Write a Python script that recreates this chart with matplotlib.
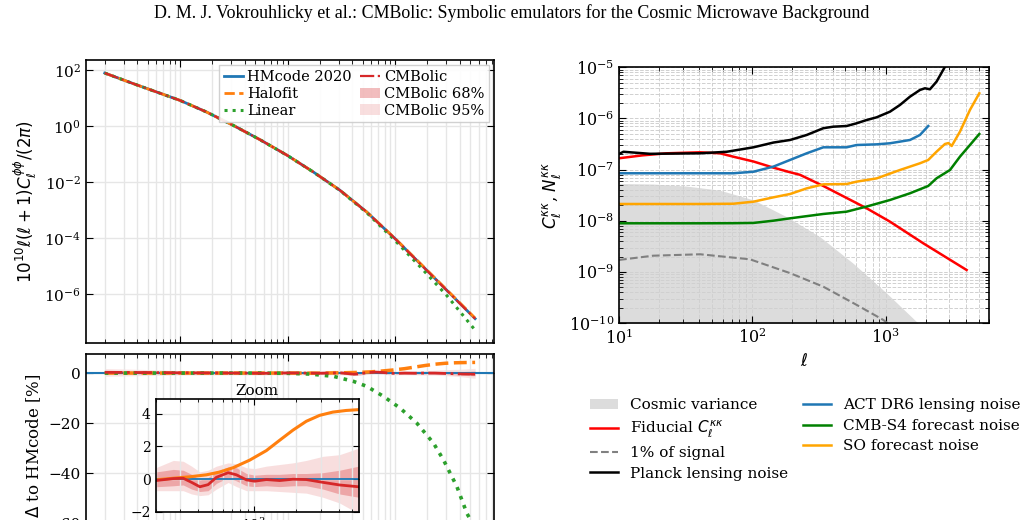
import matplotlib
matplotlib.use("Agg")
import matplotlib.pyplot as plt
from matplotlib.patches import Patch
from matplotlib.lines import Line2D
import numpy as np

plt.rcParams['font.family'] = 'DejaVu Serif'
plt.rcParams['mathtext.fontset'] = 'dejavusans'
plt.rcParams['xtick.direction'] = 'in'
plt.rcParams['ytick.direction'] = 'in'
plt.rcParams['xtick.top'] = True
plt.rcParams['ytick.right'] = True
plt.rcParams['axes.linewidth'] = 1.2

# ---- lensing potential spectrum (left top), log10 values
ell_pp = [2, 3.7, 10, 17.7, 31.3, 55.5, 99.5, 174, 308, 545, 1000, 1709, 3026, 5545]
log_hmcode = [1.905, 1.524, 0.929, 0.512, 0.036, -0.476, -1.036, -1.631, -2.286, -3.060, -4.012, -4.905, -5.857, -6.869]
log_halofit = [1.905, 1.524, 0.929, 0.512, 0.036, -0.476, -1.036, -1.631, -2.286, -3.058, -4.006, -4.891, -5.840, -6.851]
log_linear = [1.905, 1.524, 0.929, 0.512, 0.036, -0.476, -1.037, -1.633, -2.292, -3.084, -4.078, -5.013, -6.044, -7.280]
log_cmbolic = [1.906, 1.524, 0.929, 0.512, 0.036, -0.476, -1.036, -1.631, -2.286, -3.060, -4.012, -4.906, -5.858, -6.871]

# ---- ratios to HMcode [%]
ell_lin_r = [2, 10, 50, 100, 162, 267, 409, 545, 779, 1113, 1592, 2276, 2818, 3751, 4648, 5545]
lin_r = [0, 0, 0, -0.1, -0.4, -1.3, -3.3, -5.3, -9.3, -14, -20, -28, -34.7, -45.3, -56, -62]

ell_hf_r = [2, 10, 50, 100, 200, 267, 350, 459, 571, 713, 933, 1224, 1521, 1892, 2353, 2926, 3631, 4518, 5545]
hf_r = [0, 0, 0, 0, -0.04, 0.06, 0.15, 0.27, 0.44, 0.71, 1.17, 1.75, 2.38, 3.0, 3.54, 3.9, 4.1, 4.2, 4.25]

ell_cmb = [2, 5, 10, 30, 60, 100, 150, 200, 267, 314, 360, 412, 472, 541, 655, 750, 884, 1011, 1224, 1521, 1892, 2353, 3087, 4052, 5545]
cmb_med = [0.3, 0.2, 0.1, 0.0, -0.1, 0.05, 0.0, -0.08, 0.04, 0.06, -0.19, -0.46, -0.33, 0.12, 0.4, 0.27, -0.04, -0.12, -0.02, -0.08, 0.0, -0.02, -0.19, -0.35, -0.46]
cmb_hi68 = [1.0, 0.8, 0.6, 0.45, 0.35, 0.45, 0.45, 0.44, 0.6, 0.55, 0.3, -0.05, 0.1, 0.5, 0.75, 0.7, 0.35, 0.25, 0.3, 0.3, 0.35, 0.35, 0.4, 0.55, 0.8]
cmb_lo68 = [-0.4, -0.4, -0.4, -0.45, -0.5, -0.4, -0.4, -0.46, -0.4, -0.35, -0.6, -0.75, -0.7, -0.25, 0.1, -0.1, -0.4, -0.45, -0.4, -0.45, -0.4, -0.4, -0.6, -0.9, -1.1]
cmb_hi95 = [1.8, 1.4, 1.0, 0.8, 0.7, 0.8, 0.8, 0.7, 1.15, 1.1, 0.8, 0.45, 0.55, 0.8, 1.0, 0.95, 0.7, 0.65, 0.8, 0.9, 1.0, 1.15, 1.4, 1.5, 1.9]
cmb_lo95 = [-1.3, -1.0, -0.8, -0.75, -0.8, -0.7, -0.7, -0.7, -0.7, -0.7, -0.9, -1.0, -0.95, -0.6, -0.2, -0.45, -0.7, -0.7, -0.7, -0.75, -0.8, -0.85, -1.1, -1.45, -2.1]

# ---- convergence spectrum and noise curves (right), log10 values
ell_cv = [10, 18, 32, 57, 102, 181, 322, 572, 1017, 1758, 2500]
log_cv = [-7.27, -7.28, -7.32, -7.40, -7.59, -7.92, -8.31, -8.83, -9.41, -10.0, -10.4]

ell_fid = [10, 15, 22.8, 40.6, 57.2, 72, 102, 144, 192, 228, 341, 721, 1079, 1919, 4055]
log_fid = [-6.777, -6.72, -6.68, -6.66, -6.68, -6.746, -6.84, -6.96, -7.05, -7.10, -7.318, -7.754, -8.015, -8.438, -8.959]

ell_pct = [10, 18, 40.6, 96, 192, 341, 606, 962, 1300]
log_pct = [-8.763, -8.68, -8.652, -8.75, -9.02, -9.285, -9.64, -9.935, -10.2]

ell_planck = [10, 10.8, 17.1, 40.6, 64.3, 102, 144, 192, 256, 341, 405, 510, 606, 721, 857, 1079, 1282, 1524, 1811, 1974, 2151, 2413, 2790, 3000]
log_planck = [-6.693, -6.65, -6.69, -6.68, -6.65, -6.563, -6.47, -6.42, -6.322, -6.19, -6.16, -6.147, -6.094, -6.03, -5.977, -5.867, -5.736, -5.574, -5.443, -5.41, -5.43, -5.28, -4.99, -4.85]

ell_act = [10, 40, 72, 102, 144, 192, 256, 341, 510, 606, 857, 1079, 1524, 1811, 2090]
log_act = [-7.07, -7.07, -7.07, -7.04, -6.94, -6.81, -6.68, -6.563, -6.563, -6.518, -6.505, -6.484, -6.42, -6.322, -6.147]

ell_so = [10, 40, 72, 102, 144, 192, 256, 341, 510, 606, 857, 1282, 1811, 2090, 2413, 2790, 2963, 3133, 3614, 4295, 5049]
log_so = [-7.67, -7.67, -7.665, -7.625, -7.54, -7.475, -7.365, -7.286, -7.28, -7.234, -7.17, -7.006, -6.875, -6.81, -6.648, -6.498, -6.48, -6.537, -6.258, -5.834, -5.508]

ell_s4 = [10, 40, 72, 102, 144, 192, 341, 510, 721, 1079, 1524, 2090, 2413, 3043, 3614, 4295, 5049]
log_s4 = [-8.047, -8.047, -8.045, -8.04, -7.996, -7.95, -7.865, -7.82, -7.72, -7.592, -7.461, -7.318, -7.168, -7.006, -6.746, -6.518, -6.303]

fig = plt.figure(figsize=(10.24, 5.2), dpi=100)
fig.text(0.5, 0.975, "D. M. J. Vokrouhlicky et al.: CMBolic: Symbolic emulators for the Cosmic Microwave Background",
         ha='center', va='center', fontsize=12.9, family='Liberation Serif')

# ---------------- left top
ax1 = fig.add_axes([0.0837, 0.3398, 0.3984, 0.5442])
ax1.plot(ell_pp, 10 ** np.array(log_hmcode), color='tab:blue', lw=2, label='HMcode 2020')
ax1.plot(ell_pp, 10 ** np.array(log_halofit), color='tab:orange', lw=2, ls='--', label='Halofit')
ax1.plot(ell_pp, 10 ** np.array(log_linear), color='tab:green', lw=2.2, ls=':', label='Linear')
ax1.plot(ell_pp, 10 ** np.array(log_cmbolic), color='tab:red', lw=1.6, ls='-.', label='CMBolic')
ax1.set_xscale('log')
ax1.set_yscale('log')
ax1.set_xlim(1.33, 8250)
ax1.set_ylim(10 ** -7.75, 10 ** 2.36)
ax1.set_yticks([1e2, 1e0, 1e-2, 1e-4, 1e-6])
ax1.tick_params(labelbottom=False, labelsize=11, length=5)
ax1.tick_params(which='minor', length=3)
ax1.grid(which='both', axis='x', color='#e6e6e6', lw=1)
ax1.grid(which='major', axis='y', color='#e6e6e6', lw=1)
ax1.set_ylabel(r'$10^{10}\ell(\ell+1)C_\ell^{\phi\phi}/(2\pi)$', fontsize=12)
handles = [Line2D([], [], color='tab:blue', lw=2),
           Line2D([], [], color='tab:orange', lw=2, ls='--'),
           Line2D([], [], color='tab:green', lw=2.2, ls=':'),
           Line2D([], [], color='tab:red', lw=1.6, ls='-.'),
           Patch(facecolor='tab:red', alpha=0.3, lw=0),
           Patch(facecolor='tab:red', alpha=0.15, lw=0)]
labels = ['HMcode 2020', 'Halofit', 'Linear', 'CMBolic', 'CMBolic 68%', 'CMBolic 95%']
ax1.legend(handles, labels, loc='upper right', ncol=2, fontsize=10.5, handlelength=1.35,
           columnspacing=0.6, handletextpad=0.25, labelspacing=0.2, borderpad=0.3,
           borderaxespad=0.35, fancybox=False, edgecolor='#cccccc', framealpha=0.9)

# ---------------- left bottom (ratio)
ax2 = fig.add_axes([0.0837, -0.0333, 0.3984, 0.3525], sharex=ax1)
ax2.fill_between(ell_cmb, cmb_lo95, cmb_hi95, color='tab:red', alpha=0.12, lw=0)
ax2.fill_between(ell_cmb, cmb_lo68, cmb_hi68, color='tab:red', alpha=0.25, lw=0)
ax2.axhline(0, color='tab:blue', lw=1.5)
ax2.plot(ell_hf_r, hf_r, color='tab:orange', lw=2.5, ls='--')
ax2.plot(ell_lin_r, lin_r, color='tab:green', lw=2.6, ls=':')
ax2.plot(ell_cmb, cmb_med, color='tab:red', lw=2, ls='-.')
ax2.set_ylim(-65.6, 7.6)
ax2.set_yticks([0, -20, -40, -60])
ax2.tick_params(labelsize=11, length=5)
ax2.tick_params(which='minor', length=3)
ax2.grid(which='both', axis='x', color='#e6e6e6', lw=1)
ax2.grid(which='major', axis='y', color='#e6e6e6', lw=1)
ax2.set_ylabel(r'$\Delta$ to HMcode [%]', fontsize=12)

# inset
axi = fig.add_axes([0.152, 0.0154, 0.1983, 0.2173])
axi.fill_between(ell_cmb, cmb_lo95, cmb_hi95, color='tab:red', alpha=0.15, lw=0)
axi.fill_between(ell_cmb, cmb_lo68, cmb_hi68, color='tab:red', alpha=0.3, lw=0)
axi.axhline(0, color='tab:blue', lw=1.3)
axi.plot(ell_hf_r, hf_r, color='tab:orange', lw=2.2)
axi.plot(ell_cmb, cmb_med, color='tab:red', lw=2)
axi.set_xscale('log')
axi.set_xlim(200, 5545)
axi.set_ylim(-2, 4.9)
axi.set_yticks([-2, 0, 2, 4])
axi.tick_params(labelsize=10, length=4)
axi.tick_params(which='minor', length=2.5)
axi.grid(which='both', axis='x', color='#e6e6e6', lw=1)
axi.grid(which='major', axis='y', color='#e6e6e6', lw=1)
axi.set_title('Zoom', fontsize=11, pad=3)

# ---------------- right panel
ax3 = fig.add_axes([0.6045, 0.3783, 0.3616, 0.4923])
ax3.fill_between(ell_cv, 1e-12, 10 ** np.array(log_cv), color='#dcdcdc', lw=0, label='Cosmic variance')
ax3.plot(ell_fid, 10 ** np.array(log_fid), color='red', lw=1.8, label=r'Fiducial $C_\ell^{\kappa\kappa}$')
ax3.plot(ell_pct, 10 ** np.array(log_pct), color='gray', lw=1.5, ls='--', label='1% of signal')
ax3.plot(ell_planck, 10 ** np.array(log_planck), color='black', lw=1.8, label='Planck lensing noise')
ax3.plot(ell_act, 10 ** np.array(log_act), color='#1f77b4', lw=1.8, label='ACT DR6 lensing noise')
ax3.plot(ell_s4, 10 ** np.array(log_s4), color='green', lw=1.8, label='CMB-S4 forecast noise')
ax3.plot(ell_so, 10 ** np.array(log_so), color='orange', lw=1.8, label='SO forecast noise')
ax3.set_xscale('log')
ax3.set_yscale('log')
ax3.set_xlim(10, 6000)
ax3.set_ylim(1e-10, 1e-5)
ax3.tick_params(labelsize=11.5, length=5)
ax3.tick_params(which='minor', length=3)
ax3.grid(which='both', color='#d0d0d0', ls='--', lw=0.7)
ax3.set_xlabel(r'$\ell$', fontsize=12)
ax3.set_ylabel(r'$C_\ell^{\kappa\kappa}$, $N_\ell^{\kappa\kappa}$', fontsize=12)
ax3.legend(loc='upper left', bbox_to_anchor=(-0.115, -0.24), ncol=2, frameon=False, fontsize=11,
           handlelength=1.8, handletextpad=0.8, columnspacing=1.0, labelspacing=0.42)

fig.savefig('out.png', dpi=100)
